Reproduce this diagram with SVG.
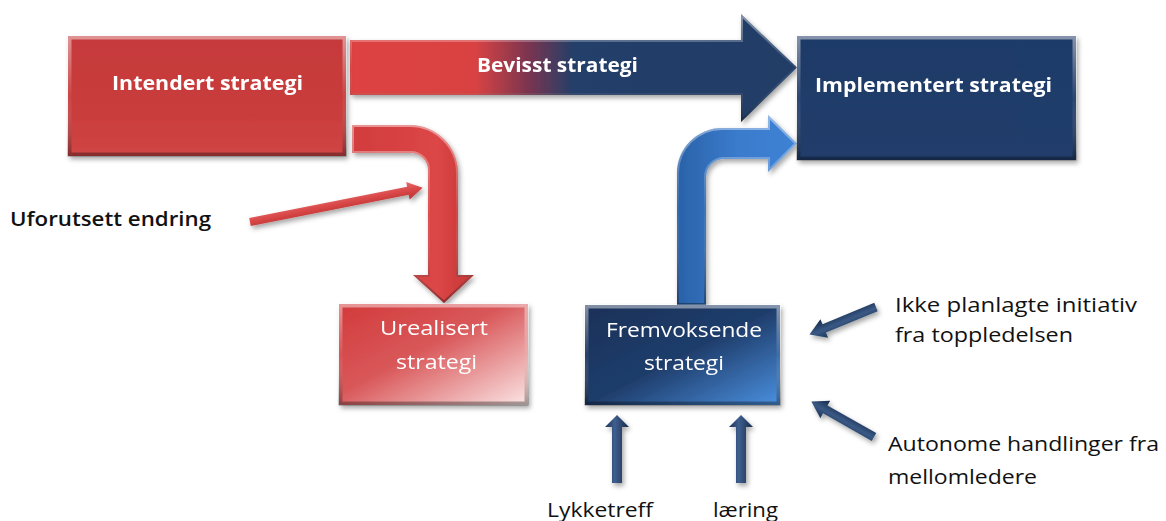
<svg xmlns="http://www.w3.org/2000/svg" width="1166" height="521" viewBox="0 0 1166 521">
  <defs>
    <style>
      text { font-family: "Open Sans", "Noto Sans", "Liberation Sans", sans-serif; }
      .lbl { fill: #ffffff; text-anchor: middle; }
      .lbl-b { font-weight: bold; font-size: 20px; }
      .lbl-n { font-size: 20px; }
      .note { fill: #111111; font-size: 20px; }
      .bevel { fill: none; stroke: url(#bevel); stroke-width: 4; }
    </style>

    <filter id="shadow" x="-10%" y="-10%" width="125%" height="130%">
      <feDropShadow dx="2" dy="3" stdDeviation="2.5" flood-color="#000" flood-opacity="0.35"/>
    </filter>

    <!-- edge shading shared by all bevelled shapes -->
    <linearGradient id="bevel" x1="0" y1="0" x2="0" y2="1">
      <stop offset="0" stop-color="#ffffff" stop-opacity="0.45"/>
      <stop offset="0.5" stop-color="#ffffff" stop-opacity="0.05"/>
      <stop offset="1" stop-color="#000000" stop-opacity="0.35"/>
    </linearGradient>

    <linearGradient id="redBox" x1="0" y1="0" x2="0" y2="1">
      <stop offset="0" stop-color="#c5393a"/>
      <stop offset="0.6" stop-color="#c93c3c"/>
      <stop offset="1" stop-color="#d04545"/>
    </linearGradient>
    <linearGradient id="navyBox" x1="0" y1="0" x2="0" y2="1">
      <stop offset="0" stop-color="#1f3a66"/>
      <stop offset="1" stop-color="#203e6c"/>
    </linearGradient>
    <linearGradient id="bevisst" x1="350" y1="0" x2="797" y2="0" gradientUnits="userSpaceOnUse">
      <stop offset="0" stop-color="#de4242"/>
      <stop offset="0.28" stop-color="#d94343"/>
      <stop offset="0.40" stop-color="#7a3550"/>
      <stop offset="0.50" stop-color="#233f69"/>
      <stop offset="1" stop-color="#203c66"/>
    </linearGradient>
    <linearGradient id="redArrow" x1="0" y1="0" x2="1" y2="0">
      <stop offset="0" stop-color="#d23c3c"/>
      <stop offset="0.7" stop-color="#dc4646"/>
      <stop offset="1" stop-color="#c53535"/>
    </linearGradient>
    <linearGradient id="urealisert" x1="0" y1="0" x2="1" y2="1">
      <stop offset="0" stop-color="#d23a3b"/>
      <stop offset="0.45" stop-color="#d9585a"/>
      <stop offset="1" stop-color="#fbe6e6"/>
    </linearGradient>
    <linearGradient id="fremvoksende" x1="0" y1="0" x2="1" y2="1">
      <stop offset="0" stop-color="#1a3158"/>
      <stop offset="0.5" stop-color="#1f3d6b"/>
      <stop offset="1" stop-color="#4a90df"/>
    </linearGradient>
    <linearGradient id="blueArrow" x1="0" y1="0" x2="1" y2="0">
      <stop offset="0" stop-color="#2a62a8"/>
      <stop offset="0.5" stop-color="#3a7bcc"/>
      <stop offset="1" stop-color="#3f82d4"/>
    </linearGradient>
    <linearGradient id="thinRed" x1="0" y1="0" x2="0" y2="1">
      <stop offset="0" stop-color="#e86a6a"/>
      <stop offset="0.5" stop-color="#d84646"/>
      <stop offset="1" stop-color="#b83232"/>
    </linearGradient>
    <linearGradient id="navyThin" x1="0" y1="0" x2="0" y2="1">
      <stop offset="0" stop-color="#1d3657"/>
      <stop offset="0.45" stop-color="#3a5a85"/>
      <stop offset="1" stop-color="#14284a"/>
    </linearGradient>
    <linearGradient id="navyUp" x1="0" y1="0" x2="1" y2="0">
      <stop offset="0" stop-color="#1b3357"/>
      <stop offset="0.4" stop-color="#3f5f8e"/>
      <stop offset="1" stop-color="#152a4a"/>
    </linearGradient>

    <!-- shapes reused for fill and bevel edge -->
    <path id="bevisstShape" d="M350,40 L741,40 L741,14 L797,67.5 L741,122 L741,95 L350,95 Z"/>
    <path id="redBent" d="M352,125 L410,125 A48,48 0 0 1 458,173 L458,275 L474,275 L444,303 L413,275 L428,275 L428,170 A17,17 0 0 0 411,153 L352,153 Z"/>
    <path id="blueBent" d="M677,305 L677,173 A45,45 0 0 1 722,128 L768,128 L768,115 L797,143.5 L768,172 L768,159 L724,159 A18,18 0 0 0 706,177 L706,305 Z"/>
    <clipPath id="clipBevisst"><use href="#bevisstShape"/></clipPath>
    <clipPath id="clipRedBent"><use href="#redBent"/></clipPath>
    <clipPath id="clipBlueBent"><use href="#blueBent"/></clipPath>

    <!-- small straight arrows, drawn pointing right from the origin -->
    <path id="thinArrow" d="M0,-4 L161,-4 L161,-9 L176,0 L161,9 L161,4 L0,4 Z"/>
    <path id="navyArrow" d="M0,-4.5 L56,-4.5 L56,-10 L72,0 L56,10 L56,4.5 L0,4.5 Z"/>
    <path id="upArrow" d="M0,0 L12,12 L5,12 L5,68 L-5,68 L-5,12 L-12,12 Z"/>
  </defs>

  <rect width="1166" height="521" fill="#ffffff"/>

  <!-- connectors -->
  <g id="connectors">
    <g id="arrow-bevisst" filter="url(#shadow)">
      <use href="#bevisstShape" fill="url(#bevisst)"/>
      <use href="#bevisstShape" class="bevel" clip-path="url(#clipBevisst)"/>
      <text class="lbl lbl-b" x="557.5" y="72" textLength="161" lengthAdjust="spacingAndGlyphs">Bevisst strategi</text>
    </g>
    <g id="arrow-urealisert" filter="url(#shadow)">
      <use href="#redBent" fill="url(#redArrow)"/>
      <use href="#redBent" class="bevel" clip-path="url(#clipRedBent)"/>
    </g>
    <g id="arrow-fremvoksende" filter="url(#shadow)">
      <use href="#blueBent" fill="url(#blueArrow)"/>
      <use href="#blueBent" class="bevel" clip-path="url(#clipBlueBent)"/>
    </g>
    <g id="arrow-uforutsett" filter="url(#shadow)">
      <use href="#thinArrow" fill="url(#thinRed)" transform="translate(250,222) rotate(-11.2)"/>
    </g>
    <g id="arrow-ikke" filter="url(#shadow)">
      <use href="#navyArrow" fill="url(#navyThin)" transform="translate(876,307) rotate(157.5)"/>
    </g>
    <g id="arrow-autonome" filter="url(#shadow)">
      <use href="#navyArrow" fill="url(#navyThin)" transform="translate(874,437) rotate(-150.5)"/>
    </g>
    <g id="arrow-lykketreff" filter="url(#shadow)">
      <use href="#upArrow" fill="url(#navyUp)" transform="translate(617,415)"/>
    </g>
    <g id="arrow-laering" filter="url(#shadow)">
      <use href="#upArrow" fill="url(#navyUp)" transform="translate(741,415)"/>
    </g>
  </g>

  <!-- nodes -->
  <g id="node-intendert" filter="url(#shadow)">
    <rect x="68" y="36" width="278" height="120" fill="url(#redBox)"/>
    <rect x="69.5" y="37.5" width="275" height="117" class="bevel" stroke-width="3"/>
    <text class="lbl lbl-b" x="207.5" y="90" textLength="191" lengthAdjust="spacingAndGlyphs">Intendert strategi</text>
  </g>

  <g id="node-implementert" filter="url(#shadow)">
    <rect x="797" y="36" width="279" height="124" fill="url(#navyBox)"/>
    <rect x="798.5" y="37.5" width="276" height="121" class="bevel" stroke-width="3"/>
    <text class="lbl lbl-b" x="933.5" y="92" textLength="237" lengthAdjust="spacingAndGlyphs">Implementert strategi</text>
  </g>

  <g id="node-urealisert" filter="url(#shadow)">
    <rect x="339" y="304" width="189" height="101" fill="url(#urealisert)"/>
    <rect x="340.5" y="305.5" width="186" height="98" class="bevel" stroke-width="3"/>
    <text class="lbl lbl-n" x="434" y="335" fill="#fbe9e9" textLength="108" lengthAdjust="spacingAndGlyphs">Urealisert</text>
    <text class="lbl lbl-n" x="436.5" y="369" textLength="81" lengthAdjust="spacingAndGlyphs">strategi</text>
  </g>

  <g id="node-fremvoksende" filter="url(#shadow)">
    <rect x="585" y="305" width="195" height="100" fill="url(#fremvoksende)"/>
    <rect x="586.5" y="306.5" width="192" height="97" class="bevel" stroke-width="3"/>
    <text class="lbl lbl-n" x="684" y="337" textLength="156" lengthAdjust="spacingAndGlyphs">Fremvoksende</text>
    <text class="lbl lbl-n" x="684" y="370" textLength="80" lengthAdjust="spacingAndGlyphs">strategi</text>
  </g>

  <!-- free labels -->
  <g id="label-uforutsett">
    <text class="note" x="10" y="226" font-weight="600" textLength="201" lengthAdjust="spacingAndGlyphs">Uforutsett endring</text>
  </g>
  <g id="label-ikke">
    <text class="note" x="895" y="312" textLength="242" lengthAdjust="spacingAndGlyphs">Ikke planlagte initiativ</text>
    <text class="note" x="895" y="342" textLength="178" lengthAdjust="spacingAndGlyphs">fra toppledelsen</text>
  </g>
  <g id="label-autonome">
    <text class="note" x="888" y="451" textLength="271" lengthAdjust="spacingAndGlyphs">Autonome handlinger fra</text>
    <text class="note" x="888" y="484" textLength="149" lengthAdjust="spacingAndGlyphs">mellomledere</text>
  </g>
  <g id="label-lykketreff">
    <text class="note" x="547" y="517" textLength="106" lengthAdjust="spacingAndGlyphs">Lykketreff</text>
  </g>
  <g id="label-laering">
    <text class="note" x="713" y="517" textLength="65" lengthAdjust="spacingAndGlyphs">læring</text>
  </g>
</svg>
